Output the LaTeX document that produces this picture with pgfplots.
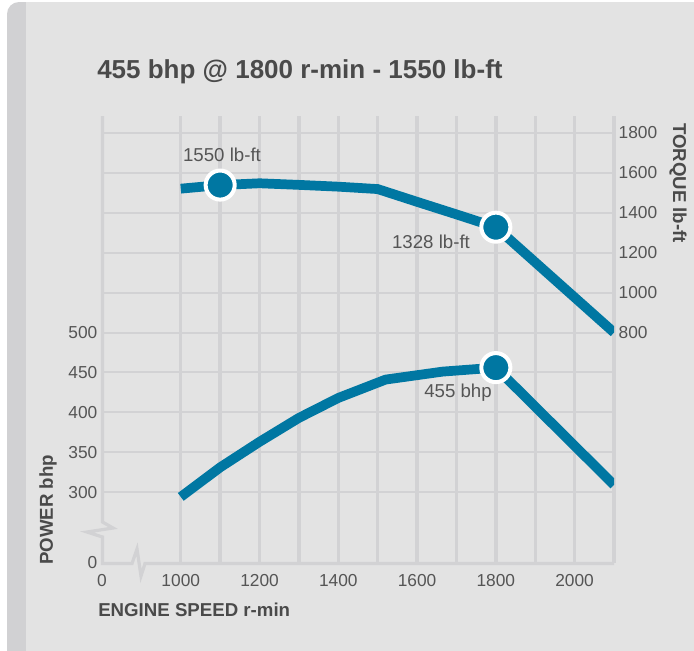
\documentclass[border=0pt]{standalone}
\usepackage{fontspec}
\setmainfont{Liberation Sans}
\usepackage{pgfplots}
\pgfplotsset{compat=1.18}

\definecolor{bg}{HTML}{E3E3E3}
\definecolor{strip}{HTML}{D1D1D3}
\definecolor{gridc}{HTML}{D2D2D4}
\definecolor{curve}{HTML}{0077A2}
\definecolor{txt}{HTML}{555555}
\definecolor{txtb}{HTML}{4A4A4A}

% power (bhp) and torque (lb-ft) against engine speed (r-min)
\pgfplotstableread{
rpm  bhp
1000 294
1100 331
1200 363
1300 393
1400 418
1520 441
1665 451
1800 456
2100 309
}\power
\pgfplotstableread{
rpm  lbft
1000 1521
1100 1539
1200 1548
1300 1540
1400 1531
1500 1519
1600 1455
1700 1392
1800 1328
2100 800
}\torque

\begin{document}
\begin{tikzpicture}
% panel
\begin{scope}[x=0.75pt,y=-0.75pt]
\useasboundingbox (0,0) rectangle (694,651);
\fill[white] (0,0) rectangle (694,651);
\fill[strip] (7,651) [rounded corners=9pt] -- (7,2) [sharp corners] -- (694,2) -- (694,651) -- cycle;
\fill[bg] (26,2) rectangle (694,651);
\end{scope}

\pgfplotsset{
  every axis/.append style={
    at={(76.5pt,-422.25pt)}, anchor=south west,
    scale only axis, width=384pt, height=335.25pt,
    xmin=800, xmax=2100,
    axis line style={draw=none},
    major tick length=0pt, minor tick length=0pt,
    tick label style={font=\fontsize{13}{15}\selectfont, text=txt},
  },
}

\begin{axis}[
    ymin=211.15, ymax=771.3,
    xtick={1000,1100,...,2100},
    xticklabels={1000,,1200,,1400,,1600,,1800,,2000,},
    extra x ticks={800}, extra x tick labels={0},
    extra x tick style={grid=none},
    ytick={300,350,...,750},
    yticklabels={300,350,400,450,500,,,,,},
    extra y ticks={211.15}, extra y tick labels={0},
    extra y tick style={grid=none},
    grid=major,
    x grid style={gridc, line width=2.5pt},
    y grid style={gridc, line width=1.5pt},
    xticklabel style={yshift=-5pt},
]
\addplot[curve, line width=7.3pt] table[x=rpm, y=bhp] {\power};
\addplot[only marks, mark=*, mark size=10.9pt,
    mark options={fill=curve, draw=white, line width=3pt}]
    coordinates {(1800,456)};
\end{axis}

\begin{axis}[
    ymin=-355.4, ymax=1885.2,
    hide x axis,
    axis y line*=right,
    ytick={800,1000,...,1800},
    yticklabels={800,1000,1200,1400,1600,1800},
]
\addplot[curve, line width=7.3pt] table[x=rpm, y=lbft] {\torque};
\addplot[only marks, mark=*, mark size=10.9pt,
    mark options={fill=curve, draw=white, line width=3pt}]
    coordinates {(1100,1539) (1800,1328)};
\end{axis}

\begin{scope}[x=0.75pt,y=-0.75pt]
% axis lines with breaks
\draw[gridc, line width=2.4pt, line join=miter]
  (102.5,116) -- (102.5,522) -- (113,528) -- (87,532) -- (102.5,537) -- (102.5,563.5)
  -- (132,563.5) -- (137,549) -- (141,576) -- (145,563.5) -- (614,563.5);
% texts
\node[anchor=west, inner sep=0pt, text=txtb, font=\bfseries\fontsize{19.5}{22}\selectfont] at (97,72)
  {455 bhp @ 1800 r-min - 1550 lb-ft};
\node[anchor=west, inner sep=0pt, text=txtb, font=\bfseries\fontsize{14}{16}\selectfont] at (98,610)
  {ENGINE SPEED r-min};
\node[rotate=90, text=txtb, font=\bfseries\fontsize{14}{16}\selectfont] at (48,510)
  {POWER bhp};
\node[rotate=-90, text=txtb, font=\bfseries\fontsize{14}{16}\selectfont] at (678,183)
  {TORQUE lb-ft};
\node[text=txt, font=\fontsize{14}{16}\selectfont] at (222,155) {1550 lb-ft};
\node[text=txt, font=\fontsize{14}{16}\selectfont] at (431,242) {1328 lb-ft};
\node[text=txt, font=\fontsize{14}{16}\selectfont] at (458,393) {455 bhp};
\end{scope}
\end{tikzpicture}
\end{document}
